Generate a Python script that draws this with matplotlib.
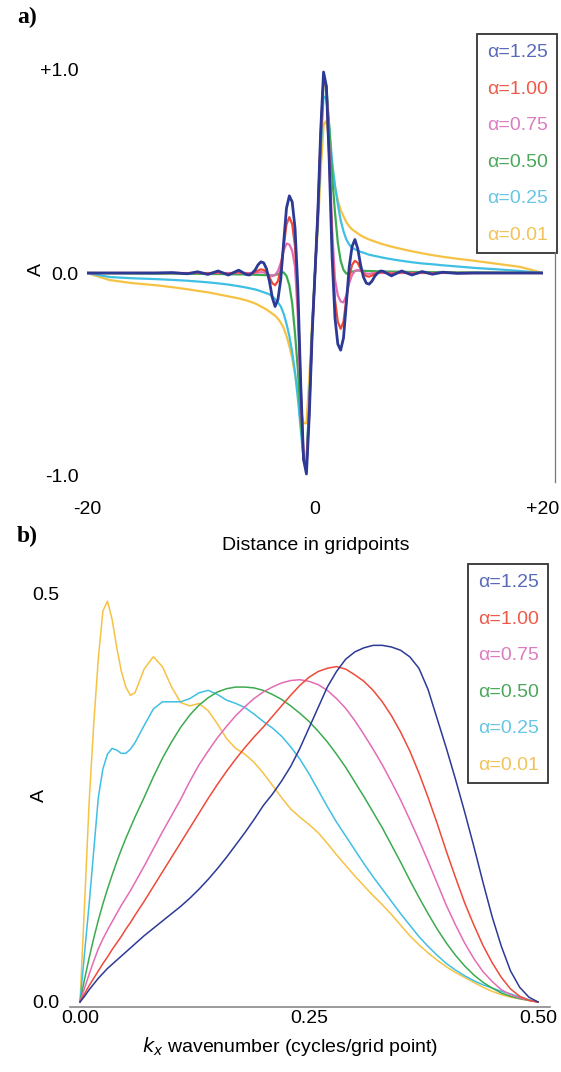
import numpy as np
import matplotlib
matplotlib.use('Agg')
import matplotlib.pyplot as plt
from matplotlib.lines import Line2D

plt.rcParams['font.family'] = ['Liberation Sans', 'DejaVu Sans']

# ---------------- panel a) : filter weights vs distance ----------------
dist = ([-20, -18, -16, -14, -12.5, -11.2, -10.3, -9.4, -8.5, -7.6, -6.7]
        + list(np.arange(-6.0, 6.01, 0.25))
        + [6.7, 7.6, 8.5, 9.4, 10.3, 11.2, 12.5, 14, 16, 18, 20])

a_125 = ([0.0, 0.0, 0.0, 0.0, 0.002, -0.004, 0.006, -0.007, 0.01, -0.01, 0.014]
         + [-0.008, -0.01, 0.0, 0.015, 0.04, 0.055, 0.05, 0.02, -0.04, -0.12, -0.165, -0.13,
            -0.03, 0.15, 0.32, 0.38, 0.35, 0.22, -0.08, -0.55, -0.92, -0.99, -0.70, -0.30]
         + [0.00, 0.30, 0.70, 0.99, 0.92, 0.55, 0.08, -0.22, -0.35, -0.38, -0.32, -0.15, 0.03,
            0.13, 0.165, 0.12, 0.04, -0.02, -0.05, -0.055, -0.04, -0.015, 0.00, 0.01, 0.008]
         + [-0.014, 0.01, -0.01, 0.007, -0.006, 0.004, -0.002, 0.0, 0.0, 0.0, 0.0])

a_100 = ([0.0, 0.0, 0.0, 0.0, 0.0, -0.001, 0.002, -0.002, 0.003, -0.004, 0.005]
         + [-0.004, -0.005, -0.002, 0.005, 0.012, 0.018, 0.015, 0.005, -0.02, -0.05, -0.06, -0.04,
            0.02, 0.13, 0.24, 0.275, 0.24, 0.13, -0.13, -0.57, -0.91, -0.97, -0.68, -0.30]
         + [0.0, 0.30, 0.68, 0.97, 0.91, 0.57, 0.13, -0.13, -0.24, -0.275, -0.24, -0.13, -0.02,
            0.04, 0.06, 0.05, 0.02, -0.005, -0.015, -0.018, -0.012, -0.005, 0.002, 0.005, 0.004]
         + [-0.005, 0.004, -0.003, 0.002, -0.002, 0.001, 0.0, 0.0, 0.0, 0.0, 0.0])

a_075 = ([0.0] * 11
         + [0.0, 0.0, 0.0, 0.0, 0.002, 0.004, 0.003, -0.002, -0.01, -0.015, -0.01, 0.01,
            0.05, 0.11, 0.145, 0.14, 0.11, 0.03, -0.22, -0.62, -0.92, -0.96, -0.66, -0.29]
         + [0.0, 0.29, 0.66, 0.96, 0.92, 0.62, 0.22, -0.03, -0.11, -0.14, -0.145, -0.11, -0.05,
            -0.01, 0.01, 0.015, 0.01, 0.002, -0.003, -0.004, -0.002, 0.0, 0.0, 0.0, 0.0]
         + [0.0] * 11)

a_050 = ([0.0, -0.001, -0.002, -0.003, -0.003, -0.004, -0.004, -0.005, -0.005, -0.006, -0.007]
         + [-0.007, -0.008, -0.008, -0.009, -0.009, -0.01, -0.01, -0.011, -0.012, -0.012, -0.01, -0.006,
            0.0, 0.003, -0.015, -0.06, -0.15, -0.30, -0.48, -0.72, -0.92, -0.93, -0.64, -0.28]
         + [0.0, 0.28, 0.64, 0.93, 0.92, 0.72, 0.48, 0.30, 0.15, 0.06, 0.015, -0.003, 0.0,
            0.006, 0.01, 0.012, 0.012, 0.011, 0.01, 0.01, 0.009, 0.009, 0.008, 0.008, 0.007]
         + [0.007, 0.006, 0.005, 0.005, 0.004, 0.004, 0.003, 0.003, 0.002, 0.001, 0.0])

a_025 = ([0.0, -0.02, -0.026, -0.03, -0.034, -0.038, -0.042, -0.046, -0.051, -0.057, -0.065]
         + [-0.072, -0.075, -0.078, -0.081, -0.085, -0.09, -0.095, -0.10, -0.105, -0.115, -0.128, -0.145,
            -0.165, -0.20, -0.25, -0.31, -0.39, -0.49, -0.62, -0.77, -0.92, -0.93, -0.62, -0.27]
         + [0.0, 0.26, 0.60, 0.87, 0.86, 0.72, 0.55, 0.43, 0.34, 0.26, 0.205, 0.165, 0.14,
            0.125, 0.117, 0.11, 0.104, 0.10, 0.095, 0.09, 0.087, 0.084, 0.081, 0.078, 0.075]
         + [0.068, 0.060, 0.053, 0.047, 0.043, 0.038, 0.032, 0.025, 0.018, 0.01, 0.0])

a_001 = ([0.0, -0.035, -0.05, -0.06, -0.07, -0.08, -0.088, -0.095, -0.105, -0.115, -0.125]
         + [-0.135, -0.14, -0.145, -0.15, -0.157, -0.165, -0.172, -0.18, -0.19, -0.20, -0.21, -0.225,
            -0.245, -0.27, -0.31, -0.36, -0.42, -0.50, -0.58, -0.67, -0.74, -0.74, -0.52, -0.24]
         + [0.0, 0.22, 0.50, 0.73, 0.75, 0.65, 0.52, 0.43, 0.36, 0.31, 0.28, 0.25, 0.23,
            0.215, 0.205, 0.195, 0.185, 0.178, 0.171, 0.165, 0.16, 0.155, 0.15, 0.145, 0.141]
         + [0.13, 0.118, 0.107, 0.097, 0.088, 0.08, 0.07, 0.06, 0.045, 0.03, 0.0])

# ---------------- panel b) : response vs wavenumber ----------------
kx = ([0, 0.005, 0.01, 0.015, 0.02, 0.025, 0.03, 0.035, 0.04, 0.045, 0.05, 0.055, 0.06]
      + [round(0.07 + 0.01 * i, 2) for i in range(44)])

b_125 = [0, 0.007, 0.015, 0.022, 0.029, 0.035, 0.041, 0.046, 0.051, 0.056, 0.061, 0.066, 0.071,
         0.081, 0.090, 0.099, 0.108, 0.117, 0.127, 0.138, 0.150, 0.163, 0.177, 0.192, 0.207, 0.223,
         0.240, 0.254, 0.270, 0.288, 0.310, 0.335, 0.360, 0.385, 0.404, 0.419, 0.428, 0.433, 0.436,
         0.436, 0.434, 0.430, 0.422, 0.408, 0.382, 0.346, 0.310, 0.272, 0.232, 0.190, 0.146, 0.104,
         0.068, 0.038, 0.018, 0.006, 0.0]
b_100 = [0, 0.01, 0.02, 0.029, 0.038, 0.047, 0.055, 0.064, 0.072, 0.080, 0.089, 0.097, 0.106,
         0.123, 0.141, 0.159, 0.177, 0.195, 0.213, 0.231, 0.249, 0.266, 0.282, 0.297, 0.311, 0.324,
         0.336, 0.349, 0.362, 0.375, 0.387, 0.397, 0.404, 0.408, 0.410, 0.407, 0.400, 0.392, 0.381,
         0.367, 0.350, 0.330, 0.307, 0.280, 0.250, 0.218, 0.184, 0.152, 0.121, 0.094, 0.069, 0.048,
         0.030, 0.016, 0.007, 0.002, 0.0]
b_075 = [0, 0.017, 0.034, 0.050, 0.065, 0.077, 0.088, 0.098, 0.108, 0.118, 0.127, 0.136, 0.146,
         0.166, 0.187, 0.208, 0.228, 0.248, 0.270, 0.290, 0.307, 0.323, 0.337, 0.350, 0.361, 0.371,
         0.379, 0.385, 0.390, 0.393, 0.394, 0.392, 0.388, 0.381, 0.371, 0.359, 0.344, 0.327, 0.309,
         0.290, 0.269, 0.247, 0.223, 0.198, 0.172, 0.145, 0.118, 0.094, 0.072, 0.053, 0.037, 0.025,
         0.015, 0.009, 0.005, 0.002, 0.0]
b_050 = [0, 0.028, 0.054, 0.078, 0.100, 0.120, 0.138, 0.155, 0.171, 0.186, 0.200, 0.213, 0.226,
         0.250, 0.275, 0.298, 0.318, 0.336, 0.351, 0.363, 0.372, 0.379, 0.383, 0.385, 0.385, 0.384,
         0.381, 0.376, 0.370, 0.362, 0.353, 0.343, 0.331, 0.318, 0.303, 0.287, 0.269, 0.251, 0.232,
         0.213, 0.192, 0.171, 0.149, 0.128, 0.108, 0.089, 0.072, 0.057, 0.044, 0.033, 0.024, 0.017,
         0.011, 0.007, 0.004, 0.002, 0.0]
b_025 = [0, 0.06, 0.12, 0.185, 0.25, 0.285, 0.303, 0.31, 0.308, 0.304, 0.304, 0.309, 0.317,
         0.338, 0.358, 0.367, 0.367, 0.367, 0.371, 0.378, 0.381, 0.376, 0.369, 0.365, 0.360, 0.352,
         0.343, 0.335, 0.325, 0.312, 0.297, 0.279, 0.259, 0.239, 0.220, 0.203, 0.186, 0.169, 0.153,
         0.138, 0.123, 0.108, 0.094, 0.080, 0.068, 0.057, 0.047, 0.039, 0.032, 0.026, 0.021, 0.017,
         0.013, 0.010, 0.006, 0.003, 0.0]
b_001 = [0, 0.12, 0.245, 0.34, 0.42, 0.478, 0.49, 0.468, 0.434, 0.405, 0.385, 0.375, 0.378,
         0.407, 0.422, 0.410, 0.385, 0.366, 0.362, 0.365, 0.356, 0.340, 0.322, 0.310, 0.303, 0.293,
         0.280, 0.265, 0.250, 0.236, 0.226, 0.217, 0.207, 0.194, 0.180, 0.167, 0.154, 0.142, 0.130,
         0.119, 0.107, 0.094, 0.081, 0.070, 0.060, 0.051, 0.043, 0.036, 0.030, 0.024, 0.018, 0.013,
         0.009, 0.006, 0.004, 0.002, 0.0]

labels = ['α=1.25', 'α=1.00', 'α=0.75', 'α=0.50', 'α=0.25', 'α=0.01']
colors = ['#2c3a96', '#ee4a3a', '#e46cb4', '#3cab4f', '#3fbfe4', '#f6c244']
text_colors = ['#5a6abb', '#ee5a48', '#dd7cc0', '#4aa858', '#66c6e4', '#f2c25a']
top_series = [a_125, a_100, a_075, a_050, a_025, a_001]
bot_series = [b_125, b_100, b_075, b_050, b_025, b_001]

W, H = 561, 1072
fig = plt.figure(figsize=(W / 100, H / 100), dpi=100)
fig.patch.set_facecolor('white')


def fx(px):
    return px / W


def fy(py):
    return 1 - py / H


def colour_legend(ax, anchor):
    h, l = ax.get_legend_handles_labels()
    leg = ax.legend(h[::-1], l[::-1], loc='upper left',
                    bbox_to_anchor=anchor, bbox_transform=fig.transFigure,
                    handlelength=0, handletextpad=0,
                    fontsize=14, labelspacing=0.97, borderpad=0.5, borderaxespad=0,
                    fancybox=False, framealpha=1, edgecolor='#333333')
    leg.get_frame().set_linewidth(1.3)
    for hd in leg.legend_handles:
        hd.set_visible(False)
    for t, c in zip(leg.get_texts(), text_colors):
        t.set_color(c)
    return leg


# ---- panel a
ax1 = fig.add_axes([fx(87), fy(476), (543 - 87) / W, (476 - 70) / H])
for ys, c, lab in list(zip(top_series, colors, labels))[::-1]:
    lw = 2.0 if lab == 'α=1.25' else 1.6
    ax1.plot(dist, ys, color=c, lw=lw, label=lab, solid_joinstyle='round')
ax1.set_xlim(-20, 20)
ax1.set_ylim(-1, 1)
for s in ax1.spines.values():
    s.set_visible(False)
ax1.set_xticks([-20, 0, 20], ['-20', '0', '+20'])
ax1.set_yticks([-1, 0, 1], ['-1.0', '0.0', '+1.0'])
ax1.tick_params(axis='both', length=0, labelsize=14)
ax1.tick_params(axis='x', pad=18)
ax1.tick_params(axis='y', pad=6)
colour_legend(ax1, (fx(477), fy(34)))

fig.add_artist(Line2D([fx(555), fx(555)], [fy(252), fy(482)], color='#777777', lw=0.9))
fig.text(fx(36), fy(270), 'A', rotation=90, ha='center', va='center', fontsize=14)
fig.text(fx(316), fy(545), 'Distance in gridpoints', ha='center', va='center', fontsize=14)
fig.text(fx(17), fy(17), 'a)', family='Liberation Serif', weight='bold', fontsize=17,
         ha='left', va='center')

# ---- panel b
ax2 = fig.add_axes([fx(70), fy(1007), (550 - 70) / W, (1007 - 593) / H])
for ys, c, lab in list(zip(bot_series, colors, labels))[::-1]:
    ax2.plot(kx, ys, color=c, lw=1.1, label=lab)
ax2.set_xlim(-10 / 916, 0.5 + 12 / 916)
ax2.set_ylim(-5 / 818, 0.5)
for k in ['top', 'right', 'left']:
    ax2.spines[k].set_visible(False)
ax2.spines['bottom'].set_color('#8a8a8a')
ax2.spines['bottom'].set_linewidth(1.2)
ax2.set_xticks([0, 0.25, 0.5], ['0.00', '0.25', '0.50'])
ax2.set_yticks([0, 0.5], ['0.0', '0.5'])
ax2.tick_params(axis='both', length=0, labelsize=14)
ax2.tick_params(axis='x', pad=2)
ax2.tick_params(axis='y', pad=8)
colour_legend(ax2, (fx(468), fy(564)))

fig.text(fx(39), fy(795), 'A', rotation=90, ha='center', va='center', fontsize=14)
fig.text(fx(290), fy(1047), r'$k_x$ wavenumber (cycles/grid point)', ha='center', va='center',
         fontsize=14)
fig.text(fx(17), fy(536), 'b)', family='Liberation Serif', weight='bold', fontsize=17,
         ha='left', va='center')

fig.savefig('out.png', dpi=100, facecolor='white')
